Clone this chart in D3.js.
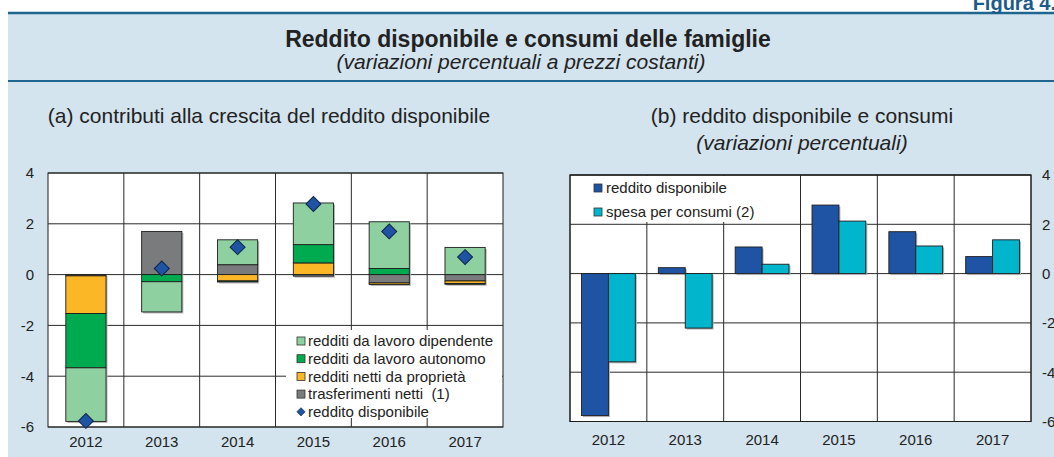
<!DOCTYPE html>
<html>
<head>
<meta charset="utf-8">
<script src="https://cdn.jsdelivr.net/npm/d3@7"></script>
<style>
  body { margin: 0; background: #fff; }
  svg { display: block; font-family: "Liberation Sans", Arial, sans-serif; }
  text { white-space: pre; }
</style>
</head>
<body>
<svg id="chart" width="1054" height="457"></svg>
<script>
// dati
var years = ["2012", "2013", "2014", "2015", "2016", "2017"];
var dipendente    = [-2.11, -1.19, 0.98, 1.64, 1.84, 1.07];
var autonomo      = [-2.14, -0.28, -0.04, 0.72, 0.24, -0.03];
var proprieta     = [-1.48, 0.00, -0.25, 0.46, -0.06, -0.10];
var trasferimenti = [-0.05, 1.70, 0.39, -0.06, -0.33, -0.25];
var redditoDisp   = [-5.76, 0.24, 1.08, 2.78, 1.70, 0.69];
var consumi       = [-3.58, -2.21, 0.38, 2.13, 1.12, 1.37];
var yTicks = [-6, -4, -2, 0, 2, 4];

var colDip = "#8fd0a1", colAut = "#00aa4f", colProp = "#fbb726", colTras = "#797b7d";
var colRed = "#1f53a3", colCons = "#00b5cc";

var svg = d3.select("#chart");

// sfondo e intestazione
svg.append("rect").attr("x", 8).attr("y", 13).attr("width", 1046).attr("height", 444).attr("fill", "#d3e4ee");
svg.append("line").attr("x1", 8).attr("x2", 1054).attr("y1", 13).attr("y2", 13)
  .attr("stroke", "#1e6590").attr("stroke-width", 2.5);
svg.append("line").attr("x1", 8).attr("x2", 1054).attr("y1", 81).attr("y2", 81)
  .attr("stroke", "#1e6590").attr("stroke-width", 2);
svg.append("text").attr("x", 1056).attr("y", 10).attr("text-anchor", "end")
  .attr("font-size", 20).attr("font-weight", "bold").attr("fill", "#1b5c8a").text("Figura 4.");
svg.append("text").attr("x", 528).attr("y", 47).attr("text-anchor", "middle")
  .attr("font-size", 23).attr("font-weight", "bold").attr("fill", "#222").text("Reddito disponibile e consumi delle famiglie");
svg.append("text").attr("x", 521).attr("y", 69).attr("text-anchor", "middle")
  .attr("font-size", 21).attr("font-style", "italic").attr("fill", "#222").text("(variazioni percentuali a prezzi costanti)");

svg.append("text").attr("x", 269).attr("y", 123).attr("text-anchor", "middle")
  .attr("font-size", 21).attr("fill", "#222").text("(a) contributi alla crescita del reddito disponibile");
svg.append("text").attr("x", 802).attr("y", 123).attr("text-anchor", "middle")
  .attr("font-size", 21).attr("fill", "#222").text("(b) reddito disponibile e consumi");
svg.append("text").attr("x", 802).attr("y", 150).attr("text-anchor", "middle")
  .attr("font-size", 21).attr("font-style", "italic").attr("fill", "#222").text("(variazioni percentuali)");

// ---------- pannello (a) ----------
var xa = d3.scaleBand().domain(years).range([48, 503]);
var ya = d3.scaleLinear().domain([-6, 4]).range([427, 173]);
var ga = svg.append("g");

drawFrame(ga, xa, ya);

var rows = years.map(function(y, i) {
  return { year: y, tras: trasferimenti[i], prop: proprieta[i], aut: autonomo[i], dip: dipendente[i] };
});
var keys = ["tras", "prop", "aut", "dip"];
var keyColor = { tras: colTras, prop: colProp, aut: colAut, dip: colDip };
var stacked = d3.stack().keys(keys).offset(d3.stackOffsetDiverging)(rows);
var barW = xa.bandwidth() * 0.53;

// ombra leggera
ga.append("g").selectAll("rect")
  .data(stacked.flat())
  .enter().append("rect")
  .attr("x", function(d) { return xa(d.data.year) + (xa.bandwidth() - barW) / 2 + 1.5; })
  .attr("y", function(d) { return ya(Math.max(d[0], d[1])) + 1.5; })
  .attr("width", barW)
  .attr("height", function(d) { return Math.abs(ya(d[0]) - ya(d[1])); })
  .attr("fill", "#b5b5b5");

ga.append("g").selectAll("g")
  .data(stacked)
  .enter().append("g")
  .attr("fill", function(s) { return keyColor[s.key]; })
  .selectAll("rect")
  .data(function(s) { return s; })
  .enter().append("rect")
  .attr("x", function(d) { return xa(d.data.year) + (xa.bandwidth() - barW) / 2; })
  .attr("y", function(d) { return ya(Math.max(d[0], d[1])); })
  .attr("width", barW)
  .attr("height", function(d) { return Math.abs(ya(d[0]) - ya(d[1])); })
  .attr("stroke", "#1d1d1d")
  .attr("stroke-width", 0.9);

// rombi reddito disponibile
var diamond = d3.symbol().type(d3.symbolSquare).size(112);
ga.append("g").selectAll("path")
  .data(redditoDisp)
  .enter().append("path")
  .attr("d", diamond)
  .attr("transform", function(d, i) { return "translate(" + (xa(years[i]) + xa.bandwidth() / 2) + "," + ya(d) + ") rotate(45)"; })
  .attr("fill", colRed)
  .attr("stroke", "#0e2447")
  .attr("stroke-width", 1);

// legenda (a)
var la = ga.append("g");
la.append("rect").attr("x", 286).attr("y", 330).attr("width", 216).attr("height", 88).attr("fill", "#fff");
var itemsA = [
  { label: "redditi da lavoro dipendente", color: colDip },
  { label: "redditi da lavoro autonomo", color: colAut },
  { label: "redditi netti da proprietà", color: colProp },
  { label: "trasferimenti netti  (1)", color: colTras },
  { label: "reddito disponibile", color: colRed, diamond: true }
];
itemsA.forEach(function(it, i) {
  var cy = 341 + i * 17.7;
  if (it.diamond) {
    la.append("path").attr("d", d3.symbol().type(d3.symbolSquare).size(34))
      .attr("transform", "translate(301," + cy + ") rotate(45)")
      .attr("fill", it.color).attr("stroke", "#0e2447").attr("stroke-width", 0.6);
  } else {
    la.append("rect").attr("x", 297).attr("y", cy - 4).attr("width", 8).attr("height", 8)
      .attr("fill", it.color).attr("stroke", "#333").attr("stroke-width", 0.8);
  }
  la.append("text").attr("x", 308).attr("y", cy + 5.3).attr("font-size", 15).attr("fill", "#222").text(it.label);
});

// assi (a)
var fmt = function(d) { return String(d); }; // trattino semplice come nell'originale
ga.append("g").attr("transform", "translate(48,0)")
  .call(d3.axisLeft(ya).tickValues(yTicks).tickSize(0).tickPadding(14).tickFormat(fmt))
  .call(styleAxis);
ga.append("g").attr("transform", "translate(0,427)")
  .call(d3.axisBottom(xa).tickSize(0).tickPadding(9.5))
  .call(styleAxis);

// ---------- pannello (b) ----------
var xb = d3.scaleBand().domain(years).range([570, 1031]);
var yb = d3.scaleLinear().domain([-6, 4]).range([421.5, 175]);
var gb = svg.append("g");

drawFrame(gb, xb, yb);

var pairW = xb.bandwidth() * 0.7;
var xs = d3.scaleBand().domain(["red", "cons"]).range([0, pairW]);
var seriesB = [
  { key: "red", values: redditoDisp, color: colRed },
  { key: "cons", values: consumi, color: colCons }
];

seriesB.forEach(function(s) {
  gb.append("g").selectAll("rect.sh")
    .data(s.values)
    .enter().append("rect")
    .attr("x", function(d, i) { return xb(years[i]) + (xb.bandwidth() - pairW) / 2 + xs(s.key) + 1.5; })
    .attr("y", function(d) { return yb(Math.max(0, d)) + 1.5; })
    .attr("width", xs.bandwidth())
    .attr("height", function(d) { return Math.abs(yb(d) - yb(0)); })
    .attr("fill", "#b5b5b5");
});
seriesB.forEach(function(s) {
  gb.append("g").selectAll("rect")
    .data(s.values)
    .enter().append("rect")
    .attr("x", function(d, i) { return xb(years[i]) + (xb.bandwidth() - pairW) / 2 + xs(s.key); })
    .attr("y", function(d) { return yb(Math.max(0, d)); })
    .attr("width", xs.bandwidth())
    .attr("height", function(d) { return Math.abs(yb(d) - yb(0)); })
    .attr("fill", s.color)
    .attr("stroke", "#1d1d1d")
    .attr("stroke-width", 0.9);
});

// legenda (b)
var lb = gb.append("g");
lb.append("rect").attr("x", 585).attr("y", 176).attr("width", 178).attr("height", 46).attr("fill", "#fff");
[{ label: "reddito disponibile", color: colRed }, { label: "spesa per consumi (2)", color: colCons }]
  .forEach(function(it, i) {
    var cy = 188 + i * 24;
    lb.append("rect").attr("x", 594).attr("y", cy - 4).attr("width", 8).attr("height", 8)
      .attr("fill", it.color).attr("stroke", "#333").attr("stroke-width", 0.8);
    lb.append("text").attr("x", 606).attr("y", cy + 5.3).attr("font-size", 15).attr("fill", "#222").text(it.label);
  });
// bordo sopra la legenda
gb.append("rect").attr("x", 570).attr("y", 175).attr("width", 461).attr("height", 246.5)
  .attr("fill", "none").attr("stroke", "#1d1d1d").attr("stroke-width", 1);

// assi (b)
gb.append("g").attr("transform", "translate(1031,0)")
  .call(d3.axisRight(yb).tickValues(yTicks).tickSize(0).tickPadding(11).tickFormat(fmt))
  .call(styleAxis);
gb.append("g").attr("transform", "translate(0,421.5)")
  .call(d3.axisBottom(xb).tickSize(0).tickPadding(12.5))
  .call(styleAxis);

// griglia + cornice bianca
function drawFrame(g, x, y) {
  var r = x.range(), d = y.range();
  g.append("rect").attr("x", r[0]).attr("y", d[1]).attr("width", r[1] - r[0]).attr("height", d[0] - d[1])
    .attr("fill", "#fff").attr("stroke", "#1d1d1d").attr("stroke-width", 1);
  g.append("g").selectAll("line.h")
    .data(yTicks)
    .enter().append("line")
    .attr("x1", r[0]).attr("x2", r[1])
    .attr("y1", function(t) { return y(t); }).attr("y2", function(t) { return y(t); })
    .attr("stroke", "#2a2a2a").attr("stroke-width", 1);
  g.append("g").selectAll("line.v")
    .data(years.slice(1))
    .enter().append("line")
    .attr("x1", function(t) { return x(t); }).attr("x2", function(t) { return x(t); })
    .attr("y1", d[1]).attr("y2", d[0])
    .attr("stroke", "#2a2a2a").attr("stroke-width", 1);
}

function styleAxis(sel) {
  sel.select(".domain").remove();
  sel.selectAll("text").attr("font-size", 15).attr("fill", "#222")
    .attr("font-family", "'Liberation Sans', Arial, sans-serif");
}
</script>
</body>
</html>
